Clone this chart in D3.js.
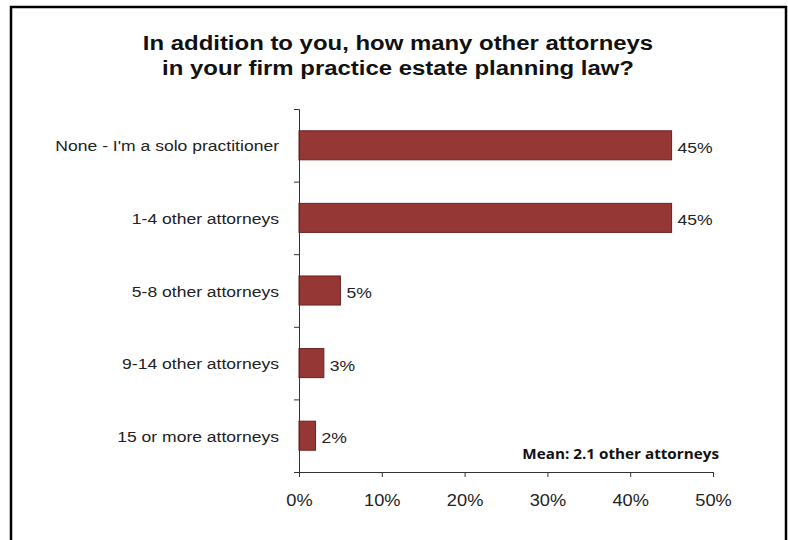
<!DOCTYPE html>
<html>
<head>
<meta charset="utf-8">
<script src="https://cdn.jsdelivr.net/npm/d3@7"></script>
<style>
  html, body { margin: 0; padding: 0; background: #fff; }
  svg { display: block; }
</style>
</head>
<body>
<script>
// Survey responses: number of other estate-planning attorneys in the firm
const categories = [
  "None - I'm a solo practitioner",
  "1-4 other attorneys",
  "5-8 other attorneys",
  "9-14 other attorneys",
  "15 or more attorneys"
];
const values = [45, 45, 5, 3, 2];
const xTicks = [0, 10, 20, 30, 40, 50];
const titleLines = [
  "In addition to you, how many other attorneys",
  "in your firm practice estate planning law?"
];
const note = "Mean: 2.1 other attorneys";

const W = 788, H = 540;
const FONT = "Liberation Sans, Arial, sans-serif";
const svg = d3.select("body").append("svg").attr("width", W).attr("height", H);

// places a horizontally widened text at (px, py)
function wideText(sel, px, py, sx) {
  return sel.attr("transform", (d, i) => `translate(${px(d, i)},${py(d, i)}) scale(${sx},1)`)
    .attr("x", 0).attr("y", 0);
}

// outer frame
svg.append("rect")
  .attr("x", 11).attr("y", 7)
  .attr("width", 775).attr("height", 560)
  .attr("fill", "#fff").attr("stroke", "#000").attr("stroke-width", 2.5);

// title
wideText(
  svg.append("g").selectAll("text").data(titleLines).join("text"),
  () => 398, (d, i) => 50 + i * 25, 1.14)
  .attr("text-anchor", "middle")
  .attr("font-family", FONT)
  .attr("font-weight", "bold").attr("font-size", 21)
  .attr("fill", "#111")
  .text(d => d);

const plot = { left: 299, right: 713, top: 109, bottom: 472 };

const x = d3.scaleLinear().domain([0, 50]).range([plot.left, plot.right]);
const y = d3.scaleBand().domain(categories).range([plot.top, plot.bottom]).paddingInner(0.6).paddingOuter(0.3);

// bars
svg.append("g").selectAll("rect").data(values).join("rect")
  .attr("x", x(0))
  .attr("y", (d, i) => y(categories[i]))
  .attr("width", d => x(d) - x(0))
  .attr("height", y.bandwidth())
  .attr("fill", "#953735")
  .attr("stroke", "#6b2220").attr("stroke-width", 1);

// value labels
wideText(
  svg.append("g").selectAll("text").data(values).join("text"),
  d => x(d) + 6, (d, i) => y(categories[i]) + y.bandwidth() / 2 + 7.5, 1.17)
  .attr("font-family", FONT)
  .attr("font-size", 15).attr("fill", "#222")
  .text(d => d + "%");

// x axis
const xAxis = svg.append("g")
  .attr("transform", `translate(0,${plot.bottom})`)
  .call(d3.axisBottom(x).tickValues(xTicks).tickFormat(d => d + "%").tickSize(5));
xAxis.select(".domain").attr("stroke", "#333");
xAxis.selectAll(".tick line").attr("stroke", "#333");
xAxis.selectAll("text")
  .attr("dy", null)
  .attr("y", 0)
  .attr("transform", "translate(0,34) scale(1.14,1)")
  .attr("font-family", FONT)
  .attr("font-size", 16).attr("fill", "#222");

// y axis: category boundaries ticked, labels on band centres
const yEdge = d3.scaleLinear().domain([0, categories.length]).range([plot.top, plot.bottom]);
const yAxis = svg.append("g")
  .attr("transform", `translate(${plot.left},0)`)
  .call(d3.axisLeft(yEdge).tickValues(d3.range(categories.length + 1)).tickSize(5).tickFormat(""));
yAxis.select(".domain").attr("stroke", "#333");
yAxis.selectAll(".tick line").attr("stroke", "#333");

wideText(
  svg.append("g").selectAll("text").data(categories).join("text"),
  () => 279, d => y(d) + y.bandwidth() / 2 + 6, 1.17)
  .attr("text-anchor", "end")
  .attr("font-family", FONT)
  .attr("font-size", 15).attr("fill", "#222")
  .text(d => d);

// mean note
svg.append("text")
  .attr("transform", "translate(719,459) scale(1.09,1)")
  .attr("text-anchor", "end")
  .attr("font-family", "Open Sans, Lato, sans-serif")
  .attr("font-weight", "bold").attr("font-size", 14)
  .attr("fill", "#111")
  .text(note);
</script>
</body>
</html>
